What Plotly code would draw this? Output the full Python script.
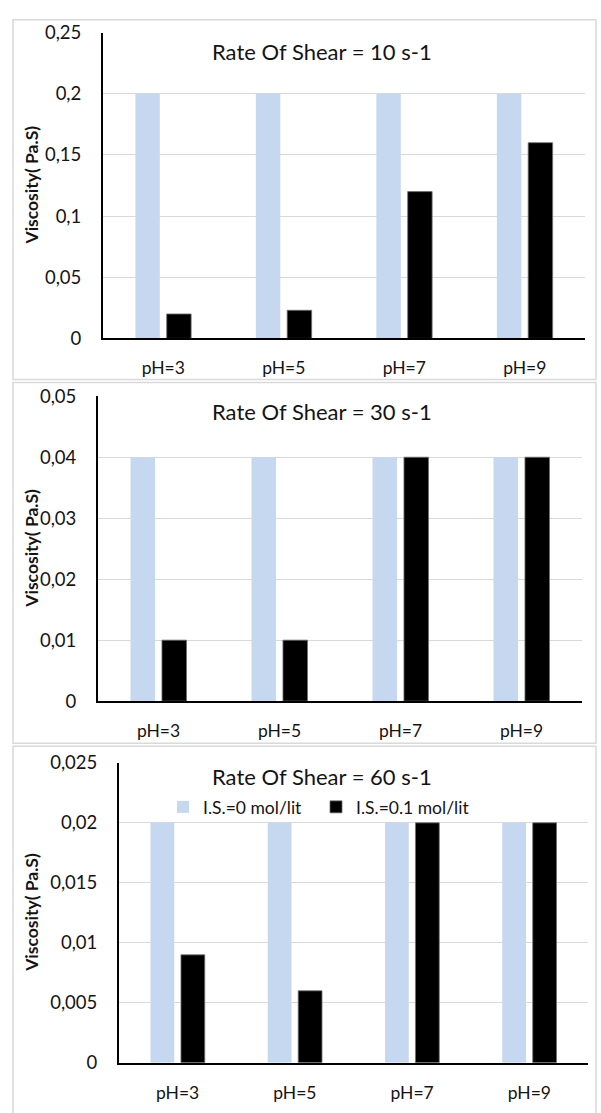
import plotly.graph_objects as go

W, H = 601, 1113

categories = ["pH=3", "pH=5", "pH=7", "pH=9"]
series_names = ["I.S.=0 mol/lit", "I.S.=0.1 mol/lit"]

# Rate of shear = 10 s-1
is0_rs10 = [0.2, 0.2, 0.2, 0.2]
is01_rs10 = [0.02, 0.023, 0.12, 0.16]
# Rate of shear = 30 s-1
is0_rs30 = [0.04, 0.04, 0.04, 0.04]
is01_rs30 = [0.01, 0.01, 0.04, 0.04]
# Rate of shear = 60 s-1
is0_rs60 = [0.02, 0.02, 0.02, 0.02]
is01_rs60 = [0.009, 0.006, 0.02, 0.02]

titles = ["Rate Of Shear = 10 s-1", "Rate Of Shear = 30 s-1", "Rate Of Shear = 60 s-1"]
y_ranges = [(0, 0.25), (0, 0.05), (0, 0.025)]
y_dticks = [0.05, 0.01, 0.005]
y_title = "Viscosity( Pa.S)"

LIGHT = "#C5D8EF"
BLACK = "#000000"
GRID = "#D9D9D9"
FONT = "Lato, Liberation Sans, sans-serif"
TXT = "#141414"

# pixel geometry: (x_left, x_right, y_top, y_bottom) of each plot area
areas = [(103, 585, 21, 333), (98, 582, 392, 703), (119, 588, 766, 1072)]
panels = [(13, 596, 8, 375), (13, 596, 378, 746), (13, 596, 749, 1130)]

def px(x):
    return x / W

def py(y):
    return 1 - y / H

fig = go.Figure()
data = [(is0_rs10, is01_rs10), (is0_rs30, is01_rs30), (is0_rs60, is01_rs60)]
for i, (a, b) in enumerate(data):
    xa = "x" if i == 0 else f"x{i+1}"
    ya = "y" if i == 0 else f"y{i+1}"
    last = i == 2
    fig.add_trace(go.Bar(x=categories, y=a, name=series_names[0], marker_color=LIGHT,
                         marker_line_width=0, xaxis=xa, yaxis=ya, showlegend=last))
    fig.add_trace(go.Bar(x=categories, y=b, name=series_names[1], marker_color=BLACK,
                         marker_line_color="#6E6E6E", marker_line_width=0.8,
                         xaxis=xa, yaxis=ya, showlegend=last))

layout = dict(
    width=W, height=H, margin=dict(l=0, r=0, t=0, b=0),
    paper_bgcolor="white", plot_bgcolor="white",
    barmode="group", bargap=0.48, bargroupgap=0.22,
    separators=",.",
    font=dict(family=FONT, size=18, color=TXT),
    showlegend=True,
    legend=dict(orientation="h", x=px(163), y=py(811), xanchor="left", yanchor="middle",
                bgcolor="rgba(0,0,0,0)", font=dict(size=17.5, color=TXT),
                entrywidth=108, traceorder="normal"),
)

shapes = []
annotations = []
for i in range(3):
    xl, xr, yt, yb = areas[i]
    sfx = "" if i == 0 else str(i + 1)
    layout["xaxis" + sfx] = dict(
        domain=[px(xl), px(xr)], anchor="y" + sfx,
        showline=True, linecolor="black", linewidth=2, ticks="",
        showgrid=False, tickfont=dict(size=17.5, color=TXT), ticklabelstandoff=13,
        fixedrange=True,
    )
    layout["yaxis" + sfx] = dict(
        domain=[py(yb), py(yt)], anchor="x" + sfx,
        range=list(y_ranges[i]), dtick=y_dticks[i], tick0=0,
        showline=True, linecolor="black", linewidth=2, ticks="",
        showgrid=True, gridcolor=GRID, gridwidth=1.3, zeroline=False,
        tickfont=dict(size=18.5, color=TXT), ticklabelstandoff=16,
        fixedrange=True,
    )
    bx0, bx1, by0, by1 = panels[i]
    shapes.append(dict(type="rect", xref="paper", yref="paper",
                       x0=px(bx0), x1=px(bx1), y0=py(by1), y1=py(by0),
                       line=dict(color=GRID, width=1.5), layer="below"))
    title_y = [40, 408, 780][i]
    annotations.append(dict(text=titles[i], x=px(322), y=py(title_y), xref="paper", yref="paper",
                            xanchor="center", yanchor="middle", showarrow=False,
                            font=dict(size=22, color=TXT)))
    annotations.append(dict(text="<b>" + y_title + "</b>", x=px(32), y=py((yt + yb) / 2),
                            xref="paper", yref="paper", xanchor="center", yanchor="middle",
                            textangle=-90, showarrow=False, font=dict(size=17.5, color=TXT)))

layout["shapes"] = shapes
layout["annotations"] = annotations
fig.update_layout(**layout)
fig.write_html("out.html")
